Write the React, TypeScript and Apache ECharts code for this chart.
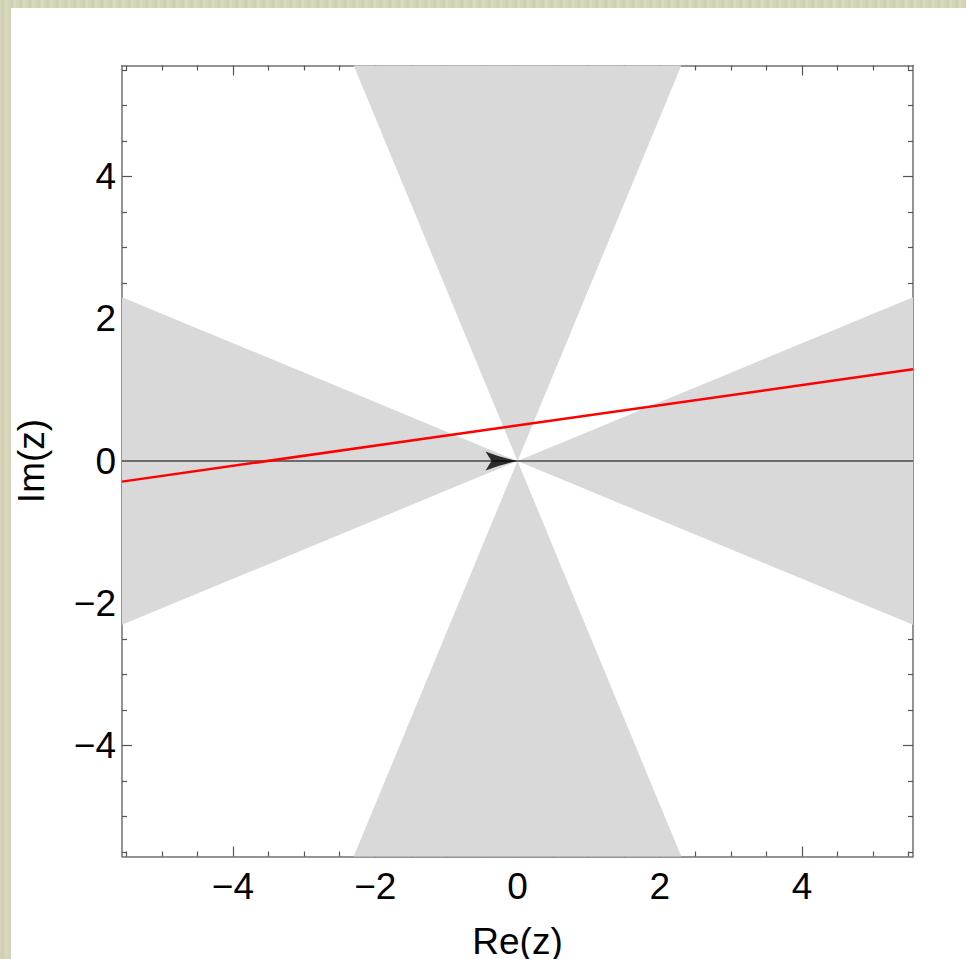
import React, { useEffect, useRef } from "react";
import * as echarts from "echarts";

const X_RANGE = [-5.56, 5.56];
const Y_RANGE = [-5.56, 5.56];
const majorTicks = [-4, -2, 0, 2, 4];
const minorTicks = [-5.5, -5, -4.5, -3.5, -3, -2.5, -1.5, -1, -0.5, 0.5, 1, 1.5, 2.5, 3, 3.5, 4.5, 5, 5.5];
const wedgeCenters = [0, 90, 180, 270];
const wedgeHalfWidth = 22.5;
const redLine = [[-5.56, -0.29], [5.56, 1.29]];
const realAxis = [[-5.56, 0], [5.56, 0]];
const arrowPoint = [[0, 0]];

const FONT = "Liberation Sans, Arial, Helvetica, sans-serif";
const FRAME = "#707070";

function fmt(v: number) {
  return v < 0 ? "\u2212" + Math.abs(v) : String(v);
}

function axis(kind: "x" | "y", position: string, ticks: number[], len: number, labels: boolean, line: boolean, extra: any = {}) {
  const range = kind === "x" ? X_RANGE : Y_RANGE;
  return {
    type: "value",
    position,
    min: range[0],
    max: range[1],
    axisLine: { show: line, onZero: false, lineStyle: { color: FRAME, width: 1.5 } },
    axisTick: {
      show: true,
      inside: true,
      length: len,
      customValues: ticks,
      lineStyle: { color: "#555", width: 1.2 },
    },
    axisLabel: labels
      ? {
          show: true,
          customValues: majorTicks,
          formatter: fmt,
          color: "#000",
          fontSize: 37,
          fontFamily: FONT,
          margin: kind === "x" ? 11 : 6,
        }
      : { show: false },
    splitLine: { show: false },
    ...extra,
  };
}

export default function App() {
  const ref = useRef<HTMLDivElement>(null);
  useEffect(() => {
    if (!ref.current) return;
    const chart = echarts.init(ref.current, undefined, { renderer: "svg" });
    const option: any = {
      animation: false,
      backgroundColor: "#ffffff",
      grid: { left: 111, top: 57.5, width: 791, height: 791, containLabel: false, outerBoundsMode: "none" },
      xAxis: [
        axis("x", "bottom", majorTicks, 10, true, true, {
          name: "Re(z)",
          nameLocation: "middle",
          nameGap: 66,
          nameTextStyle: { fontSize: 37, fontFamily: FONT, color: "#000" },
        }),
        axis("x", "bottom", minorTicks, 5, false, false),
        axis("x", "top", majorTicks, 10, false, true),
        axis("x", "top", minorTicks, 5, false, false),
      ],
      yAxis: [
        axis("y", "left", majorTicks, 10, true, true, {
          name: "Im(z)",
          nameLocation: "middle",
          nameGap: 72,
          nameTextStyle: { fontSize: 37, fontFamily: FONT, color: "#000" },
        }),
        axis("y", "left", minorTicks, 5, false, false),
        axis("y", "right", majorTicks, 10, false, true),
        axis("y", "right", minorTicks, 5, false, false),
      ],
      series: [
        {
          type: "custom",
          xAxisIndex: 0,
          yAxisIndex: 0,
          clip: true,
          silent: true,
          z: 1,
          data: wedgeCenters.map((c) => [c]),
          renderItem: (params: any, api: any) => {
            const c = (api.value(0) * Math.PI) / 180;
            const h = (wedgeHalfWidth * Math.PI) / 180;
            const R = 20;
            const pts = [
              api.coord([0, 0]),
              api.coord([R * Math.cos(c - h), R * Math.sin(c - h)]),
              api.coord([R * Math.cos(c + h), R * Math.sin(c + h)]),
            ];
            return {
              type: "polygon",
              shape: { points: pts },
              style: { fill: "#d9d9d9", stroke: "none" },
            };
          },
        },
        {
          type: "line",
          xAxisIndex: 0,
          yAxisIndex: 0,
          data: realAxis,
          showSymbol: false,
          symbol: "none",
          z: 3,
          lineStyle: { color: "#000", width: 1.2 },
        },
        {
          type: "line",
          xAxisIndex: 0,
          yAxisIndex: 0,
          data: redLine,
          showSymbol: false,
          symbol: "none",
          z: 4,
          lineStyle: { color: "#ff0000", width: 2.5 },
        },
        {
          type: "scatter",
          xAxisIndex: 0,
          yAxisIndex: 0,
          data: arrowPoint,
          symbol: "path://M0,0 Q15,6 32,9.5 Q15,13 0,19 L6,9.5 Z",
          symbolSize: [32, 19],
          symbolOffset: [-16, 0],
          symbolKeepAspect: false,
          z: 5,
          itemStyle: { color: "#000" },
        },
      ],
    };
    chart.setOption(option);
    return () => chart.dispose();
  }, []);
  return (
    <div
      style={{
        position: "absolute",
        left: 0,
        top: 0,
        width: 966,
        height: 959,
        overflow: "hidden",
        background:
          "repeating-linear-gradient(90deg, #d8d6ba 0px, #cfcdb0 3px, #dcdac0 6px, #d4d2b5 9px)",
      }}
    >
      <div
        ref={ref}
        style={{ position: "absolute", left: 11, top: 8, width: 955, height: 951, background: "#fff" }}
      />
    </div>
  );
}
